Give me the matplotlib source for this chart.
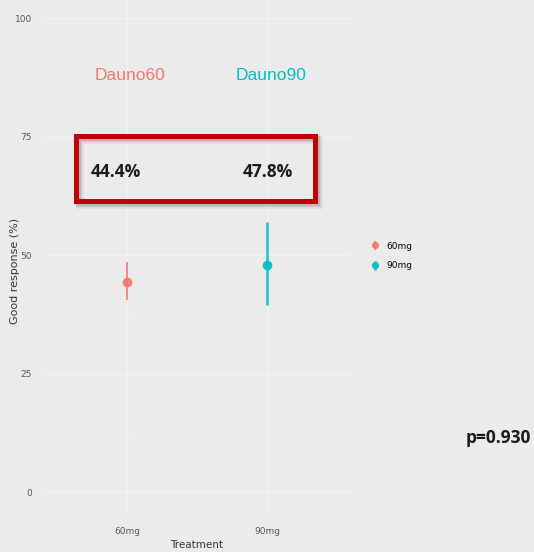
import matplotlib
matplotlib.use("Agg")
import matplotlib.pyplot as plt
from matplotlib.patches import Rectangle

# response rates by dose with their interval limits
doses = ["60mg", "90mg"]
response = [44.4, 47.8]
lower = [40.5, 39.5]
upper = [48.5, 57.0]
arm_names = ["Dauno60", "Dauno90"]
colors = ["#F8766D", "#00BFC4"]
p_value = "p=0.930"

W, H = 534, 552
fig = plt.figure(figsize=(W / 100, H / 100), dpi=100)
bg = "#ebebeb"
fig.patch.set_facecolor(bg)


def fx(px):
    return px / W


def fy(py):
    return 1 - py / H


# panel spans the discrete x range with ggplot-style padding
ax = fig.add_axes([fx(43), fy(516), fx(351) - fx(43), fy(0) - fy(516)])
ax.set_facecolor(bg)
ax.set_xlim(-0.6, 1.6)
ax.set_ylim(-5.06, 103.8)
ax.set_yticks([0, 25, 50, 75, 100])
ax.set_yticks([12.5, 37.5, 62.5, 87.5], minor=True)
ax.set_xticks(range(len(doses)))
ax.set_xticklabels(doses)
ax.grid(True, which="major", color="white", lw=1.0, alpha=0.35)
ax.grid(True, which="minor", axis="y", color="white", lw=0.5, alpha=0.35)
ax.set_axisbelow(True)
for s in ax.spines.values():
    s.set_visible(False)
ax.tick_params(which="both", length=0, labelsize=6.5, labelcolor="#555555",
               pad=8)
ax.set_xlabel("Treatment", fontsize=7.5, color="#333333", labelpad=3)
ax.set_ylabel("Good response (%)", fontsize=8, color="#333333")
ax.yaxis.set_label_coords(-0.075, 0.475)

handles = []
for i, (r, lo, hi, c) in enumerate(zip(response, lower, upper, colors)):
    h = ax.errorbar(i, r, yerr=[[r - lo], [hi - r]], fmt="o", color=c,
                    ms=6, elinewidth=[1.3, 1.8][i], capsize=0, alpha=0.9,
                    label=doses[i])
    handles.append(h)

fig.legend(handles, doses, loc="center left",
           bbox_to_anchor=(fx(362), fy(256)), frameon=False,
           fontsize=6.5, handlelength=1.0, handletextpad=0.8,
           labelspacing=1.2, markerscale=0.7)

# arm titles and percentages above the panel
for i, (name, r, c) in enumerate(zip(arm_names, response, colors)):
    fig.text(fx([130, 271][i]), fy(75), name, color=c, fontsize=12.5,
             ha="center", va="center", family="Liberation Sans")
    fig.text(fx([116, 268][i]), fy(172), f"{r}%", color="#1a1a1a",
             fontsize=12.5, fontweight="bold", ha="center", va="center",
             family="Open Sans")

# highlight box with a soft drop shadow
x0, x1, y0, y1 = 76, 315, 136, 201
for k, a in enumerate([0.18, 0.12, 0.08]):
    d = 2 + k
    fig.patches.append(Rectangle((fx(x0 + d), fy(y1 + d)), fx(x1) - fx(x0),
                                 fy(y0) - fy(y1), transform=fig.transFigure,
                                 fill=False, ec="#555555", lw=3.6 + k,
                                 alpha=a))
fig.patches.append(Rectangle((fx(x0), fy(y1)), fx(x1) - fx(x0),
                             fy(y0) - fy(y1), transform=fig.transFigure,
                             fill=False, ec="#c00000", lw=3.6))

fig.text(fx(498), fy(438), p_value, color="#1a1a1a", fontsize=12.5,
         fontweight="bold", ha="center", va="center", family="Open Sans")

fig.savefig("out.png", dpi=100, facecolor=bg)
